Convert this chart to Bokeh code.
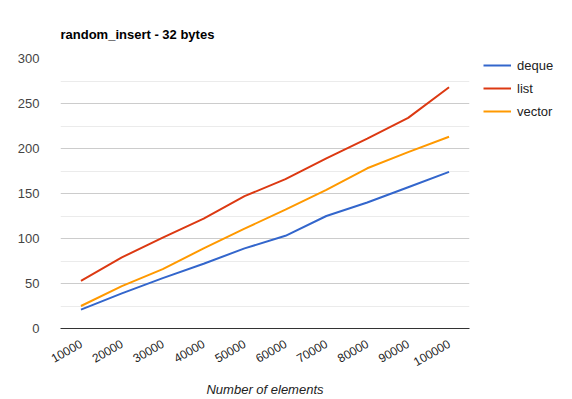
import math
from bokeh.plotting import figure
from bokeh.models import FactorRange, Range1d, FixedTicker, Legend, LegendItem
from bokeh.embed import file_html
from bokeh.resources import INLINE

categories = ["10000", "20000", "30000", "40000", "50000", "60000", "70000", "80000", "90000", "100000"]
deque = [21, 39, 56, 72, 89, 103, 125, 140, 157, 174]
list_ = [53, 79, 101, 122, 147, 166, 189, 211, 234, 268]
vector = [25, 47, 66, 89, 111, 132, 154, 178, 196, 213]
y_ticks = [0, 50, 100, 150, 200, 250, 300]
y_minor = [25, 75, 125, 175, 225, 275]

FONT = "Liberation Sans"

p = figure(frame_width=409, frame_height=270, output_backend="svg", toolbar_location=None,
           x_range=FactorRange(*categories, range_padding=0), y_range=Range1d(0, 300),
           min_border_left=60, min_border_right=95, min_border_top=58, min_border_bottom=70,
           title="random_insert - 32 bytes")
p.outline_line_color = None
p.background_fill_color = "white"

p.title.text_font = FONT
p.title.text_font_style = "bold"
p.title.text_font_size = "13px"
p.title.text_color = "#000000"
p.title.align = "left"
p.title.standoff = 34

r1 = p.line(categories, deque, line_color="#3366cc", line_width=2)
r2 = p.line(categories, list_, line_color="#dc3912", line_width=2)
r3 = p.line(categories, vector, line_color="#ff9900", line_width=2)

p.yaxis.ticker = FixedTicker(ticks=y_ticks, minor_ticks=y_minor)
p.yaxis.axis_line_color = None
p.yaxis.major_tick_line_color = None
p.yaxis.minor_tick_line_color = None
p.yaxis.major_label_standoff = 15
p.yaxis.major_label_text_font = FONT
p.yaxis.major_label_text_font_size = "13px"
p.yaxis.major_label_text_color = "#444444"

p.ygrid.grid_line_color = "#cccccc"
p.ygrid.minor_grid_line_color = "#ebebeb"
p.xgrid.grid_line_color = None

p.xaxis.axis_line_color = "#333333"
p.xaxis.axis_line_width = 1
p.xaxis.major_tick_line_color = None
p.xaxis.minor_tick_line_color = None
p.xaxis.major_label_orientation = math.radians(30)
p.xaxis.major_label_standoff = 8
p.xaxis.major_label_text_font = FONT
p.xaxis.major_label_text_font_size = "12px"
p.xaxis.major_label_text_color = "#222222"
p.xaxis.axis_label = "Number of elements"
p.xaxis.axis_label_text_font = FONT
p.xaxis.axis_label_text_font_style = "italic"
p.xaxis.axis_label_text_font_size = "13px"
p.xaxis.axis_label_text_color = "#222222"
p.xaxis.axis_label_standoff = 9

legend = Legend(items=[LegendItem(label="deque", renderers=[r1]),
                       LegendItem(label="list", renderers=[r2]),
                       LegendItem(label="vector", renderers=[r3])],
                location=(14, 209), padding=0, margin=0, spacing=7,
                glyph_width=28, glyph_height=16, label_height=16, label_standoff=6,
                label_text_font=FONT, label_text_font_size="13px", label_text_color="#222222",
                border_line_color=None, background_fill_alpha=0)
p.add_layout(legend, "right")

open("out.html", "w").write(file_html(p, INLINE))
